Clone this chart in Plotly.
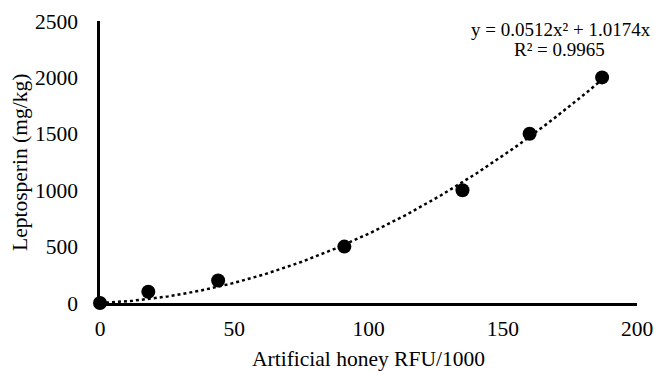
import numpy as np
import plotly.graph_objects as go

# Data
x_rfu = [0, 18, 44, 91, 135, 160, 187]
y_lepto = [0, 100, 200, 500, 1000, 1500, 2000]
coef_a = 0.0512
coef_b = 1.0174
eq_text = "y = 0.0512x² + 1.0174x"
r2_text = "R² = 0.9965"
x_title = "Artificial honey RFU/1000"
y_title = "Leptosperin (mg/kg)"
x_ticks = [0, 50, 100, 150, 200]
y_ticks = [0, 500, 1000, 1500, 2000, 2500]

FONT = "Times New Roman, Liberation Serif, serif"
W, H = 654, 371
ML, MR, MT, MB = 100, 17, 21, 68
PW, PH = W - ML - MR, H - MT - MB

def px(xp):
    return (xp - ML) / PW

def py(yp):
    return (H - MB - yp) / PH

xt = np.linspace(0, max(x_rfu), 200)
yt = coef_a * xt**2 + coef_b * xt

fig = go.Figure()
fig.add_trace(go.Scatter(x=xt, y=yt, mode="lines",
                         line=dict(color="black", width=2.5, dash="dot"),
                         hoverinfo="skip", showlegend=False, cliponaxis=False))
fig.add_trace(go.Scatter(x=x_rfu, y=y_lepto, mode="markers",
                         marker=dict(color="black", size=14),
                         showlegend=False, cliponaxis=False))

fig.add_annotation(x=px(561), y=py(29), xref="paper", yref="paper", text=eq_text,
                   showarrow=False, xanchor="center", yanchor="middle",
                   font=dict(family=FONT, size=19, color="black"))
fig.add_annotation(x=px(559), y=py(49), xref="paper", yref="paper", text=r2_text,
                   showarrow=False, xanchor="center", yanchor="middle",
                   font=dict(family=FONT, size=19, color="black"))
fig.add_annotation(x=px(368), y=py(359), xref="paper", yref="paper", text=x_title,
                   showarrow=False, xanchor="center", yanchor="middle",
                   font=dict(family=FONT, size=21.5, color="black"))
fig.add_annotation(x=px(20), y=py(163), xref="paper", yref="paper", text=y_title,
                   showarrow=False, xanchor="center", yanchor="middle", textangle=-90,
                   font=dict(family=FONT, size=21.5, color="black"))

fig.update_layout(
    width=W, height=H,
    margin=dict(l=ML, r=MR, t=MT, b=MB),
    paper_bgcolor="white", plot_bgcolor="white",
    font=dict(family=FONT, size=21.5, color="black"),
    xaxis=dict(range=[0, 200], tickvals=x_ticks, showgrid=False, zeroline=False,
               showline=True, linecolor="black", linewidth=2.5,
               ticks="", ticklabelstandoff=4, automargin=False),
    yaxis=dict(range=[0, 2500], tickvals=y_ticks, showgrid=False, zeroline=False,
               showline=True, linecolor="black", linewidth=2.5,
               ticks="", ticklabelstandoff=15, automargin=False),
)

fig.write_html("out.html", config={"displayModeBar": False},
               post_script="document.body.style.margin='0px';document.body.style.overflow='hidden';")
